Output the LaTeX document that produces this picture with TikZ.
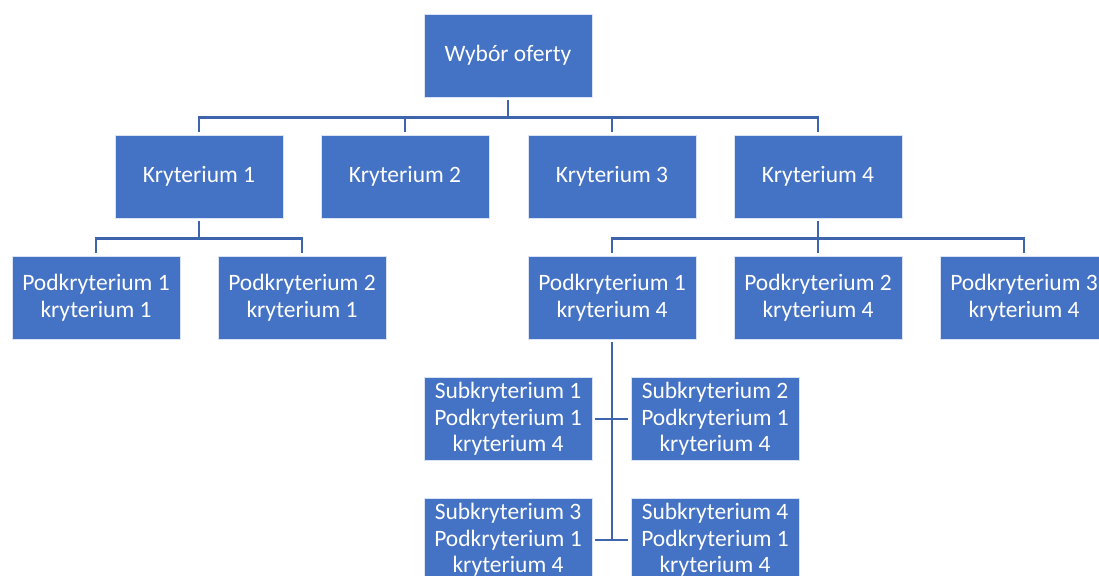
\documentclass[tikz,border=0pt]{standalone}
\usepackage{fontspec}
\setmainfont{Carlito}
\definecolor{boxblue}{HTML}{4472C4}
\definecolor{lineblue}{HTML}{3F64AE}
\begin{document}
\begin{tikzpicture}[x=1pt,y=-1pt,
  box/.style={rectangle, fill=boxblue, draw=white!80!boxblue, line width=0.8pt,
    minimum width=168pt, minimum height=83pt, inner sep=0pt, align=center,
    text=white, font=\fontsize{23.5}{26.5}\selectfont},
  conn/.style={draw=lineblue, line width=2.4pt, shorten <=3pt, shorten >=3pt}]
\useasboundingbox (0,0) rectangle (1099,575);
\node[box] (top) at (508,55.5) {Wybór oferty};
\node[box] (k1) at (199,176.5) {Kryterium 1};
\node[box] (k2) at (405,176.5) {Kryterium 2};
\node[box] (k3) at (612,176.5) {Kryterium 3};
\node[box] (k4) at (818,176.5) {Kryterium 4};
\node[box] (p11) at (96,297.5) {Podkryterium 1\\kryterium 1};
\node[box] (p21) at (302,297.5) {Podkryterium 2\\kryterium 1};
\node[box] (p14) at (612,297.5) {Podkryterium 1\\kryterium 4};
\node[box] (p24) at (818,297.5) {Podkryterium 2\\kryterium 4};
\node[box] (p34) at (1024,297.5) {Podkryterium 3\\kryterium 4};
\node[box] (s1) at (508,419) {Subkryterium 1\\Podkryterium 1\\kryterium 4};
\node[box] (s2) at (715,419) {Subkryterium 2\\Podkryterium 1\\kryterium 4};
\node[box] (s3) at (508,540) {Subkryterium 3\\Podkryterium 1\\kryterium 4};
\node[box] (s4) at (715,540) {Subkryterium 4\\Podkryterium 1\\kryterium 4};
% level 0 -> 1
\foreach \k in {k1,k2,k3,k4}
  \draw[conn] (top.south) -- +(0,20) -| (\k.north);
% kryterium 1 -> podkryteria
\foreach \k in {p11,p21}
  \draw[conn] (k1.south) -- +(0,20) -| (\k.north);
% kryterium 4 -> podkryteria
\foreach \k in {p14,p24,p34}
  \draw[conn] (k4.south) -- +(0,20) -| (\k.north);
% podkryterium 1 kryterium 4 -> subkryteria
\draw[conn, shorten >=0pt] (p14.south) -- (p14.south |- s3.east);
\draw[conn] (s1.east) -- (s2.west);
\draw[conn] (s3.east) -- (s4.west);
\end{tikzpicture}
\end{document}
